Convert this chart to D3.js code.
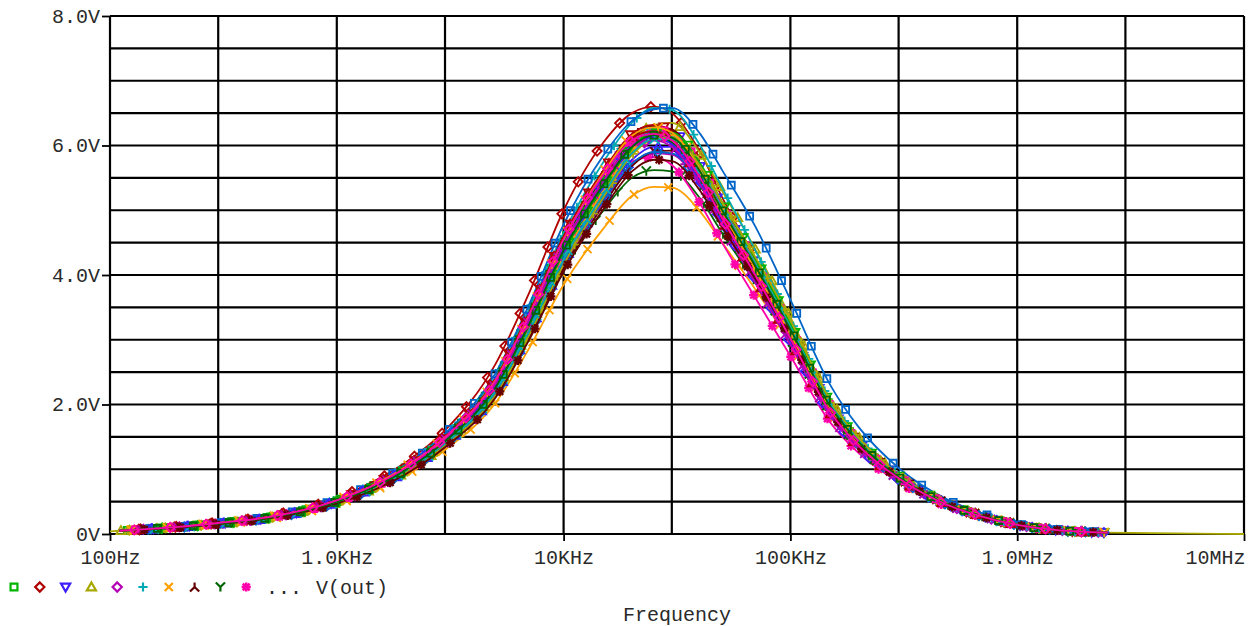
<!DOCTYPE html>
<html>
<head>
<meta charset="utf-8">
<script src="https://cdn.jsdelivr.net/npm/d3@7"></script>
<style>
  body { margin: 0; background: #fff; }
  #chart text { font-family: "Liberation Mono", "DejaVu Sans Mono", monospace; fill: #2a2a2a; }
</style>
</head>
<body>
<div id="chart"></div>
<script>
// sweep points shared by every Monte Carlo run (Hz)
const freqs = [110, 200, 300, 500, 1e3, 2e3, 3e3, 5e3, 7e3, 1e4, 1.5e4, 2e4, 2.5e4, 3e4, 4e4,
               5e4, 7e4, 1e5, 1.5e5, 2e5, 3e5, 5e5, 7e5, 1e6, 1.5e6, 2.5e6];

// V(out) for each run
const run00 = [0.05,0.11,0.17,0.26,0.52,1.02,1.48,2.36,3.35,4.52,5.50,6.05,6.20,6.15,5.60,4.98,4.10,3.10,1.98,1.42,0.88,0.45,0.28,0.14,0.06,0.02];
const run01 = [0.06,0.12,0.18,0.28,0.56,1.10,1.60,2.62,3.70,5.00,6.05,6.50,6.60,6.50,5.90,5.20,4.25,3.20,2.02,1.45,0.90,0.46,0.29,0.15,0.06,0.02];
const run02 = [0.05,0.11,0.16,0.25,0.50,0.99,1.44,2.28,3.25,4.42,5.45,6.05,6.25,6.22,5.68,5.05,4.15,3.12,1.95,1.40,0.88,0.45,0.28,0.14,0.06,0.02];
const run03 = [0.05,0.10,0.15,0.24,0.48,0.95,1.38,2.20,3.15,4.30,5.40,6.05,6.32,6.35,5.88,5.30,4.40,3.35,2.08,1.50,0.92,0.46,0.29,0.15,0.06,0.02];
const run04 = [0.05,0.11,0.16,0.25,0.50,0.97,1.40,2.22,3.16,4.30,5.30,5.90,6.08,6.05,5.52,4.92,4.05,3.08,1.90,1.36,0.86,0.44,0.27,0.14,0.06,0.02];
const run05 = [0.05,0.11,0.17,0.26,0.53,1.04,1.52,2.42,3.45,4.65,5.75,6.35,6.58,6.55,6.00,5.35,4.38,3.30,2.06,1.48,0.91,0.46,0.29,0.15,0.06,0.02];
const run06 = [0.04,0.10,0.15,0.23,0.46,0.90,1.30,2.02,2.85,3.85,4.72,5.22,5.36,5.35,4.98,4.50,3.78,2.95,1.85,1.35,0.85,0.44,0.27,0.14,0.06,0.02];
const run07 = [0.05,0.11,0.16,0.26,0.51,1.00,1.46,2.32,3.30,4.48,5.52,6.12,6.30,6.25,5.70,5.05,4.15,3.12,1.96,1.40,0.88,0.45,0.28,0.14,0.06,0.02];
const run08 = [0.05,0.10,0.15,0.24,0.48,0.95,1.38,2.16,3.05,4.10,5.00,5.50,5.62,5.60,5.18,4.65,3.88,3.00,1.88,1.36,0.86,0.44,0.27,0.14,0.06,0.02];
const run09 = [0.05,0.11,0.16,0.25,0.50,0.99,1.44,2.28,3.22,4.36,5.30,5.75,5.82,5.70,5.10,4.50,3.65,2.75,1.72,1.25,0.80,0.41,0.26,0.13,0.05,0.02];
const run10 = [0.05,0.11,0.17,0.27,0.54,1.06,1.55,2.48,3.52,4.78,5.85,6.38,6.56,6.58,6.18,5.62,4.75,3.62,2.30,1.65,1.02,0.52,0.32,0.16,0.07,0.03];
const run11 = [0.05,0.11,0.16,0.25,0.49,0.97,1.41,2.23,3.18,4.33,5.35,5.95,6.15,6.12,5.60,5.00,4.12,3.12,1.95,1.40,0.88,0.45,0.28,0.14,0.06,0.02];
const run12 = [0.05,0.11,0.17,0.26,0.52,1.03,1.50,2.38,3.38,4.58,5.62,6.18,6.32,6.22,5.62,4.95,4.02,3.02,1.88,1.35,0.85,0.44,0.27,0.14,0.06,0.02];
const run13 = [0.05,0.10,0.16,0.24,0.49,0.96,1.39,2.18,3.10,4.20,5.18,5.78,5.98,5.98,5.50,4.92,4.08,3.12,1.94,1.40,0.88,0.45,0.28,0.14,0.06,0.02];
const run14 = [0.05,0.11,0.16,0.25,0.50,0.98,1.43,2.27,3.24,4.40,5.42,6.00,6.18,6.16,5.65,5.06,4.20,3.22,2.00,1.44,0.90,0.46,0.28,0.14,0.06,0.02];
const run15 = [0.05,0.10,0.15,0.24,0.48,0.94,1.37,2.15,3.06,4.15,5.12,5.70,5.88,5.86,5.38,4.80,3.98,3.05,1.90,1.37,0.86,0.44,0.27,0.14,0.06,0.02];
const run16 = [0.05,0.11,0.17,0.26,0.52,1.02,1.48,2.34,3.32,4.50,5.52,6.08,6.22,6.15,5.55,4.90,4.00,3.02,1.88,1.35,0.85,0.44,0.27,0.14,0.06,0.02];
const run17 = [0.05,0.11,0.16,0.25,0.49,0.97,1.41,2.22,3.15,4.28,5.30,5.92,6.14,6.16,5.70,5.12,4.26,3.26,2.03,1.46,0.91,0.46,0.29,0.15,0.06,0.02];
const run18 = [0.05,0.10,0.15,0.24,0.47,0.93,1.35,2.12,3.02,4.10,5.08,5.68,5.90,5.92,5.48,4.92,4.10,3.15,1.96,1.41,0.88,0.45,0.28,0.14,0.06,0.02];
const run19 = [0.05,0.11,0.17,0.26,0.51,1.01,1.47,2.33,3.32,4.50,5.50,6.02,6.14,6.05,5.45,4.82,3.95,2.98,1.86,1.34,0.85,0.44,0.27,0.14,0.06,0.02];
const run20 = [0.05,0.11,0.16,0.25,0.50,0.99,1.45,2.30,3.28,4.46,5.48,6.06,6.24,6.20,5.68,5.06,4.18,3.18,1.98,1.42,0.89,0.45,0.28,0.14,0.06,0.02];
const run21 = [0.05,0.10,0.16,0.24,0.48,0.95,1.38,2.17,3.08,4.18,5.15,5.72,5.90,5.88,5.40,4.82,3.98,3.04,1.90,1.37,0.86,0.44,0.27,0.14,0.06,0.02];
const run22 = [0.05,0.11,0.16,0.25,0.50,0.98,1.42,2.25,3.20,4.35,5.38,5.98,6.20,6.20,5.72,5.12,4.25,3.25,2.02,1.45,0.90,0.46,0.28,0.14,0.06,0.02];
const run23 = [0.05,0.11,0.17,0.27,0.53,1.04,1.51,2.40,3.40,4.60,5.60,6.12,6.22,6.10,5.48,4.85,3.96,2.98,1.86,1.34,0.85,0.44,0.27,0.14,0.06,0.02];
const run24 = [0.05,0.11,0.16,0.25,0.51,1.00,1.45,2.30,3.27,4.44,5.44,6.00,6.12,6.02,5.44,4.80,3.92,2.95,1.84,1.33,0.84,0.43,0.27,0.14,0.06,0.02];
const run25 = [0.05,0.10,0.15,0.24,0.48,0.94,1.36,2.14,3.05,4.16,5.20,5.85,6.10,6.12,5.68,5.12,4.28,3.30,2.06,1.48,0.92,0.46,0.29,0.15,0.06,0.02];
const run26 = [0.05,0.11,0.16,0.26,0.51,1.01,1.47,2.33,3.30,4.46,5.45,5.98,6.08,5.98,5.40,4.76,3.88,2.92,1.82,1.32,0.84,0.43,0.27,0.14,0.06,0.02];
const run27 = [0.05,0.10,0.16,0.25,0.49,0.97,1.40,2.20,3.12,4.24,5.25,5.88,6.10,6.10,5.62,5.04,4.18,3.20,2.00,1.44,0.89,0.45,0.28,0.14,0.06,0.02];
const run28 = [0.05,0.11,0.17,0.26,0.52,1.03,1.49,2.37,3.36,4.55,5.58,6.15,6.28,6.20,5.62,4.98,4.08,3.08,1.92,1.38,0.87,0.44,0.28,0.14,0.06,0.02];
const run29 = [0.05,0.10,0.15,0.24,0.47,0.92,1.34,2.10,2.98,4.05,5.02,5.60,5.78,5.76,5.30,4.74,3.94,3.02,1.89,1.36,0.86,0.44,0.27,0.14,0.06,0.02];
const run30 = [0.05,0.11,0.16,0.25,0.50,0.98,1.43,2.26,3.22,4.38,5.40,5.98,6.16,6.12,5.60,5.00,4.14,3.16,1.97,1.42,0.88,0.45,0.28,0.14,0.06,0.02];
const run31 = [0.05,0.11,0.17,0.26,0.52,1.02,1.49,2.36,3.36,4.55,5.55,6.08,6.18,6.08,5.50,4.88,4.00,3.02,1.88,1.36,0.86,0.44,0.27,0.14,0.06,0.02];

const runs = [run00, run01, run02, run03, run04, run05, run06, run07, run08, run09, run10, run11,
              run12, run13, run14, run15, run16, run17, run18, run19, run20, run21, run22, run23,
              run24, run25, run26, run27, run28, run29, run30, run31];

// run 3 is the one whose trace spans the whole sweep
const longRun = 3;
const longRunStart = [100, 0.04];
const longRunEnd = [1e7, 0.0];

const yTicks = [0, 2, 4, 6, 8];
const yLabels = ["0V", "2.0V", "4.0V", "6.0V", "8.0V"];
const xTicks = [100, 1e3, 1e4, 1e5, 1e6, 1e7];
const xLabels = ["100Hz", "1.0KHz", "10KHz", "100KHz", "1.0MHz", "10MHz"];
const xGrid = [100, 300, 1e3, 3e3, 1e4, 3e4, 1e5, 3e5, 1e6, 3e6, 1e7];
const yGrid = [0, 0.5, 1, 1.5, 2, 2.5, 3, 3.5, 4, 4.5, 5, 5.5, 6, 6.5, 7, 7.5, 8];
const traceName = "V(out)";
const xTitle = "Frequency";

const colors = ["#00b400", "#b00000", "#3c1eff", "#a8a800", "#b400b4", "#00aab4",
                "#ffa000", "#640000", "#006400", "#ff00aa", "#0064c8"];

// marker glyphs, in PSpice order
const glyphs = [
  "M-3,-3h6v6h-6z",
  "M0,-4L4,0L0,4L-4,0Z",
  "M-4,-3L4,-3L0,4Z",
  "M-4,3L4,3L0,-4Z",
  "M0,-4L4,0L0,4L-4,0Z",
  "M-4,0H4M0,-4V4",
  "M-3.5,-3.5L3.5,3.5M3.5,-3.5L-3.5,3.5",
  "M0,-4V0L-4,4M0,0L4,4",
  "M0,4V0L-4,-4M0,0L4,-4",
  "M0,-4V4M-4,0H4M-3,-3L3,3M3,-3L-3,3"
];

const W = 1259, H = 626;
const svg = d3.select("#chart").append("svg").attr("width", W).attr("height", H);

const x = d3.scaleLog().domain([100, 1e7]).range([110, 1244]);
const y = d3.scaleLinear().domain([0, 8]).range([534, 16]);

// grid
const grid = svg.append("g");
grid.selectAll(".hg").data(yGrid).enter().append("line")
  .attr("x1", x(100)).attr("x2", x(1e7))
  .attr("y1", d => y(d)).attr("y2", d => y(d))
  .attr("stroke", "#000").attr("stroke-width", 2.2);
grid.selectAll(".vg").data(xGrid).enter().append("line")
  .attr("x1", d => x(d)).attr("x2", d => x(d))
  .attr("y1", y(0)).attr("y2", y(8))
  .attr("stroke", "#000").attr("stroke-width", 2.2);

// axes (ticks and labels only, frame comes from the grid)
const yAxis = svg.append("g").attr("transform", `translate(${x(100)},0)`)
  .call(d3.axisLeft(y).tickValues(yTicks).tickFormat((d, i) => yLabels[i]).tickSize(8).tickPadding(2));
const xAxis = svg.append("g").attr("transform", `translate(0,${y(0)})`)
  .call(d3.axisBottom(x).tickValues(xTicks).tickFormat((d, i) => xLabels[i]).tickSize(7).tickPadding(9));
[yAxis, xAxis].forEach(a => {
  a.select(".domain").remove();
  a.selectAll(".tick line").attr("stroke", "#000").attr("stroke-width", 1.8);
  a.selectAll("text").attr("font-size", 20).attr("font-family", null).attr("fill", null);
  a.attr("font-family", null).attr("font-size", 20);
});
xAxis.selectAll(".tick").filter(d => d === 1e7).select("text").attr("text-anchor", "end").attr("dx", 1);

// traces
const line = d3.line().x(d => x(d[0])).y(d => y(d[1])).curve(d3.curveMonotoneX);
const traces = svg.append("g");
const step = 36;

runs.forEach((vals, i) => {
  let pts = freqs.map((f, j) => [f, vals[j]]);
  if (i === longRun) pts = [longRunStart, ...pts, longRunEnd];
  const col = colors[i % colors.length];
  const path = traces.append("path")
    .attr("d", line(pts))
    .attr("fill", "none")
    .attr("stroke", col)
    .attr("stroke-width", 1.8);

  // markers spaced along the drawn trace
  const node = path.node();
  let len = node.getTotalLength();
  if (i === longRun) {
    // no markers on the flat part beyond the other runs
    len = len - (x(1e7) - x(2.5e6));
  }
  const g = glyphs[i % glyphs.length];
  for (let s = (i * 13) % step + 8; s < len - 2; s += step) {
    const p = node.getPointAtLength(s);
    if (p.x < x(108)) continue;
    traces.append("path")
      .attr("d", g)
      .attr("transform", `translate(${p.x},${p.y}) scale(1.15)`)
      .attr("fill", "none")
      .attr("stroke", col)
      .attr("stroke-width", i % glyphs.length === 9 ? 2.0 : 1.6);
  }
});

// legend
const legend = svg.append("g").attr("transform", "translate(0,587)");
glyphs.forEach((g, i) => {
  legend.append("path")
    .attr("d", g)
    .attr("transform", `translate(${14 + i * 25.8},0) scale(1.15)`)
    .attr("fill", "none")
    .attr("stroke", colors[i])
    .attr("stroke-width", i === 9 ? 2.2 : 1.9);
});
legend.append("text").attr("x", 266).attr("y", 7).attr("font-size", 20).text("...");
legend.append("text").attr("x", 316).attr("y", 7).attr("font-size", 20).text(traceName);

svg.append("text")
  .attr("x", (x(100) + x(1e7)) / 2).attr("y", 621)
  .attr("text-anchor", "middle").attr("font-size", 20)
  .text(xTitle);
</script>
</body>
</html>
